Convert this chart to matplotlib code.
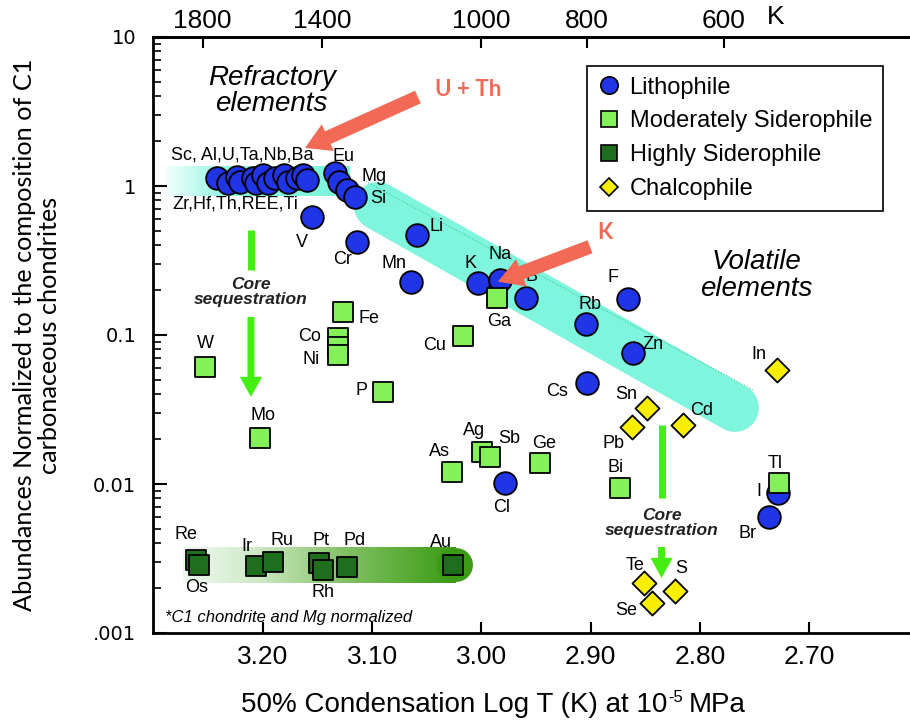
import numpy as np
import matplotlib
matplotlib.use("Agg")
import matplotlib.pyplot as plt
from matplotlib.lines import Line2D
from matplotlib.collections import LineCollection
from matplotlib.colors import LinearSegmentedColormap
from matplotlib.ticker import FixedLocator, FixedFormatter, LogLocator, NullFormatter, NullLocator

plt.rcParams['font.family'] = ['Liberation Sans', 'DejaVu Sans']

# 50% condensation log T (K) and C1-normalised abundance
refr_logt = [3.242, 3.232, 3.224, 3.221, 3.209, 3.206, 3.200, 3.195,
             3.189, 3.181, 3.177, 3.169, 3.163, 3.160]
refr_abund = [1.13, 1.04, 1.15, 1.07, 1.13, 1.04, 1.185, 1.04,
              1.13, 1.185, 1.07, 1.13, 1.185, 1.10]

litho_names = ['Eu', '', 'Mg', 'Si', 'V', 'Cr', 'Li', 'Mn', 'K', 'Na', 'B',
               'Rb', 'F', 'Zn', 'Cs', 'Cl', 'I', 'Br']
litho_logt = [3.134, 3.130, 3.123, 3.116, 3.155, 3.114, 3.059, 3.064, 3.003,
              2.983, 2.959, 2.904, 2.866, 2.861, 2.903, 2.978, 2.728, 2.737]
litho_abund = [1.22, 1.064, 0.94, 0.844, 0.622, 0.423, 0.469, 0.228, 0.222,
               0.234, 0.176, 0.119, 0.174, 0.0754, 0.0474, 0.0101, 0.00866, 0.00603]

modsid_names = ['Ga', 'Fe', 'Co', '', 'Ni', 'W', 'Mo', 'P', 'Cu', 'As', 'Ag',
                'Sb', 'Ge', 'Bi', 'Tl']
modsid_logt = [2.986, 3.127, 3.131, 3.131, 3.131, 3.253, 3.203, 3.090, 3.017,
               3.027, 2.999, 2.992, 2.946, 2.873, 2.727]
modsid_abund = [0.176, 0.143, 0.095, 0.0834, 0.0734, 0.0613, 0.0203, 0.0416,
                0.0985, 0.0121, 0.0165, 0.0151, 0.0138, 0.00945, 0.0102]

hisid_names = ['Re', 'Os', 'Ir', 'Ru', 'Pt', 'Rh', 'Pd', 'Au']
hisid_logt = [3.261, 3.259, 3.206, 3.191, 3.149, 3.145, 3.123, 3.026]
hisid_abund = [0.00309, 0.00286, 0.00283, 0.00301, 0.00294, 0.00265, 0.00276, 0.00286]

chalco_names = ['In', 'Sn', 'Pb', 'Cd', 'Te', 'S', 'Se']
chalco_logt = [2.729, 2.848, 2.862, 2.815, 2.851, 2.823, 2.844]
chalco_abund = [0.0582, 0.0325, 0.0242, 0.0249, 0.00216, 0.00192, 0.00158]

top_temps = [1800, 1400, 1000, 800, 600]
x_ticks = [3.20, 3.10, 3.00, 2.90, 2.80, 2.70]
y_ticks = [0.001, 0.01, 0.1, 1, 10]
y_ticklabels = ['.001', '0.01', '0.1', '1', '10']

# label offsets (pixels) from each point
offsets = {
    'Eu': (8, 17), 'Mg': (27, 14), 'Si': (24, -2), 'V': (-10, -26), 'Cr': (-14, -18),
    'Li': (20, 8), 'Mn': (-17, 18), 'K': (-8, 20), 'Na': (0, 25), 'B': (5, 22),
    'Rb': (4, 19), 'F': (-15, 22), 'Zn': (20, 9), 'Cs': (-30, -8), 'Cl': (-4, -24),
    'I': (-20, 2), 'Br': (-21, -17),
    'Ga': (2, -23), 'Fe': (26, -7), 'Co': (-29, 2), 'Ni': (-27, -4), 'W': (0, 23),
    'Mo': (3, 23), 'P': (-22, 1), 'Cu': (-28, -10), 'As': (-12, 20), 'Ag': (-8, 21),
    'Sb': (19, 19), 'Ge': (4, 20), 'Bi': (-4, 20), 'Tl': (-4, 19),
    'Re': (-10, 25), 'Os': (-2, -22), 'Ir': (-10, 19), 'Ru': (9, 21), 'Pt': (2, 23),
    'Rh': (0, -23), 'Pd': (8, 27), 'Au': (-12, 23),
    'In': (-18, 16), 'Sn': (-21, 13), 'Pb': (-19, -17), 'Cd': (18, 14),
    'Te': (-9, 18), 'S': (7, 22), 'Se': (-26, -7),
}

BLUE = '#2035e6'
LGREEN = '#84f05a'
DGREEN = '#1e6e1e'
YELLOW = '#f8ee00'
CYAN = '#7ef5dc'
ARROW_GREEN = '#44ee11'
SALMON = '#f26a55'

fig = plt.figure(figsize=(9.1, 7.25), dpi=100)
ax = fig.add_axes([153 / 910, 92 / 725, 762 / 910, 596 / 725])
ax.set_yscale('log')
ax.set_xlim(3.3007, 2.6029)
ax.set_ylim(0.001, 10)


def gradient_band(x0, x1, y, stops, lw, round_end=False, n=120):
    xs = np.linspace(x0, x1, n + 1)
    segs = [[(xs[i], y), (xs[i + 1], y)] for i in range(n)]
    cmap = LinearSegmentedColormap.from_list('band', stops)
    lc = LineCollection(segs, colors=cmap(np.linspace(0, 1, n)), linewidths=lw,
                        capstyle='butt', antialiaseds=False, zorder=1)
    ax.add_collection(lc)
    if round_end:
        ax.plot(xs[-2:], [y, y], color=cmap(1.0), lw=lw, solid_capstyle='round', zorder=1)


# refractory plateau and volatile trend
gradient_band(3.2897, 3.120, 1.08,
              [(0, '#f2fffb'), (0.35, '#88f6e0'), (1, CYAN)], lw=21.6)
ax.plot([3.0947, 2.7678], [0.734, 0.0324], color=CYAN, lw=34.5,
        solid_capstyle='round', zorder=1)
ax.plot([3.1084, 2.7513], [1.097, 0.0428], color='#3ec8a0', lw=0.8, ls=':', zorder=1)

# highly siderophile band
gradient_band(3.2733, 3.0233, 0.00286,
              [(0, '#eef9f1'), (0.27, '#cfe8c6'), (0.6, '#80c062'), (1, '#3b9b14')],
              lw=24.5, round_end=True)

# core sequestration arrows
green_arrow = dict(arrowstyle='simple,head_width=1.6,head_length=1.45,tail_width=0.5',
                   fc=ARROW_GREEN, ec='none', mutation_scale=10, shrinkA=0, shrinkB=0)
ax.plot([3.211, 3.211], [0.507, 0.273], color=ARROW_GREEN, lw=5, solid_capstyle='butt', zorder=2)
ax.annotate('', xy=(3.211, 0.0384), xytext=(3.211, 0.132), arrowprops=green_arrow, zorder=2)
ax.text(3.211, 0.1945, 'Core\nsequestration', ha='center', va='center', style='italic',
        fontweight='bold', fontsize=12.5, color='#222222', linespacing=1.0, zorder=3)

ax.plot([2.835, 2.835], [0.0249, 0.00806], color=ARROW_GREEN, lw=5, solid_capstyle='butt', zorder=2)
ax.annotate('', xy=(2.835, 0.00234), xytext=(2.835, 0.00378), arrowprops=green_arrow, zorder=2)
ax.text(2.835, 0.00547, 'Core\nsequestration', ha='center', va='center', style='italic',
        fontweight='bold', fontsize=12.5, color='#222222', linespacing=1.0, zorder=3)

# points
ax.scatter(refr_logt, refr_abund, s=266, c=BLUE, edgecolors='k', linewidths=1.3, zorder=4)
ax.scatter(litho_logt, litho_abund, s=266, c=BLUE, edgecolors='k', linewidths=1.3, zorder=4)
ax.scatter(modsid_logt, modsid_abund, s=222, marker='s', c=LGREEN, edgecolors='k',
           linewidths=1.3, zorder=5)
ax.scatter(hisid_logt, hisid_abund, s=222, marker='s', c=DGREEN, edgecolors='k',
           linewidths=1.3, zorder=5)
ax.scatter(chalco_logt, chalco_abund, s=150, marker='D', c=YELLOW, edgecolors='k',
           linewidths=1.3, zorder=5)

for names, xs, ys in [(litho_names, litho_logt, litho_abund),
                      (modsid_names, modsid_logt, modsid_abund),
                      (hisid_names, hisid_logt, hisid_abund),
                      (chalco_names, chalco_logt, chalco_abund)]:
    for name, x, y in zip(names, xs, ys):
        if not name:
            continue
        ax.annotate(name, (x, y), xytext=offsets[name], textcoords='offset pixels',
                    ha='center', va='center', fontsize=13, zorder=6)

ax.annotate('Sc, Al,U,Ta,Nb,Ba', (refr_logt[3], refr_abund[3]), xytext=(2, 27),
            textcoords='offset pixels', ha='center', va='center', fontsize=13, zorder=6)
ax.annotate('Zr,Hf,Th,REE,Ti', (refr_logt[3], refr_abund[3]), xytext=(-5, -22),
            textcoords='offset pixels', ha='center', va='center', fontsize=13, zorder=6)

ax.text(3.192, 4.34, 'Refractory\nelements', ha='center', va='center', style='italic',
        fontsize=20, linespacing=1.0, zorder=6)
ax.text(2.7485, 0.249, 'Volatile\nelements', ha='center', va='center', style='italic',
        fontsize=20, linespacing=1.05, zorder=6)
ax.text(3.2897, 0.00128, '*C1 chondrite and Mg normalized', ha='left', va='center',
        style='italic', fontsize=12, zorder=6)

# U + Th and K call-outs
red_arrow = dict(arrowstyle='simple,head_width=2.1,head_length=1.8,tail_width=1.0',
                 fc=SALMON, ec='none', mutation_scale=10, shrinkA=0, shrinkB=0)
ax.annotate('', xy=(3.1615, 1.80), xytext=(3.0581, 3.956), arrowprops=red_arrow, zorder=7)
ax.annotate('', xy=(2.9848, 0.228), xytext=(2.9005, 0.391), arrowprops=red_arrow, zorder=7)
ax.text(3.0123, 4.41, 'U + Th', color=SALMON, fontsize=16, fontweight='bold',
        family=['Lato', 'DejaVu Sans'], ha='center', va='center', zorder=7)
ax.text(2.8868, 0.484, 'K', color=SALMON, fontsize=16, fontweight='bold',
        family=['Lato', 'DejaVu Sans'], ha='center', va='center', zorder=7)

# axes styling
for side in ['left', 'bottom', 'top']:
    ax.spines[side].set_linewidth(2)
ax.spines['right'].set_visible(False)

ax.xaxis.set_major_locator(FixedLocator(x_ticks))
ax.xaxis.set_major_formatter(FixedFormatter(['%.2f' % t for t in x_ticks]))
ax.xaxis.set_minor_locator(NullLocator())
ax.tick_params(axis='x', direction='in', length=8, width=1.5, labelsize=19, pad=9)

ax.yaxis.set_major_locator(FixedLocator(y_ticks))
ax.yaxis.set_major_formatter(FixedFormatter(y_ticklabels))
ax.yaxis.set_minor_locator(LogLocator(base=10, subs=np.arange(2, 10)))
ax.yaxis.set_minor_formatter(NullFormatter())
ax.tick_params(axis='y', which='major', direction='in', length=10, width=1.5, pad=12)
ax.tick_params(axis='y', which='minor', direction='in', length=6, width=1.2)
for lab in ax.get_yticklabels():
    lab.set_family('DejaVu Sans')
    lab.set_fontsize(14)

sec = ax.secondary_xaxis('top', functions=(lambda x: 10 ** x, np.log10))
sec.set_xticks(top_temps)
sec.set_xticklabels([str(t) for t in top_temps])
sec.xaxis.set_minor_locator(NullLocator())
sec.tick_params(direction='in', length=8, width=1.5, labelsize=19, pad=3)
sec.spines['top'].set_linewidth(2)
fig.text(776 / 910, 1 - 17 / 725, 'K', fontsize=19, ha='center', va='center')

# x label with a small raised "-5"
xl = fig.text(0.265, 1 - 705 / 725, '50% Condensation Log T (K) at 10', fontsize=20,
              ha='left', va='center')
fig.canvas.draw()
bb = xl.get_window_extent()
sup = fig.text(bb.x1 / 910 + 0.001, 1 - 697 / 725, '-5', fontsize=12, ha='left', va='center')
bb2 = sup.get_window_extent()
fig.text(bb2.x1 / 910 + 0.006, 1 - 705 / 725, 'MPa', fontsize=20, ha='left', va='center')

fig.text(37 / 910, 1 - 335 / 725,
         'Abundances Normalized to the composition of C1\ncarbonaceous chondrites',
         rotation=90, ha='center', va='center', multialignment='center',
         fontsize=18.2, family=['Lato', 'DejaVu Sans'], linespacing=1.15)

handles = [
    Line2D([], [], ls='', marker='o', ms=12.5, mfc=BLUE, mec='k', mew=1.2, label='Lithophile'),
    Line2D([], [], ls='', marker='s', ms=12, mfc=LGREEN, mec='k', mew=1.2,
           label='Moderately Siderophile'),
    Line2D([], [], ls='', marker='s', ms=12, mfc=DGREEN, mec='k', mew=1.2,
           label='Highly Siderophile'),
    Line2D([], [], ls='', marker='D', ms=8.7, mfc=YELLOW, mec='k', mew=1.2, label='Chalcophile'),
]
leg = ax.legend(handles=handles, loc='upper left', bbox_to_anchor=(587 / 910, 1 - 66 / 725),
                bbox_transform=fig.transFigure, fontsize=17, frameon=True, fancybox=False,
                edgecolor='k', framealpha=1, borderaxespad=0, handlelength=1.0,
                handletextpad=0.35, labelspacing=0.5, borderpad=0.45)
leg.get_frame().set_linewidth(1.2)
leg.set_zorder(8)

fig.savefig('out.png', dpi=100)
